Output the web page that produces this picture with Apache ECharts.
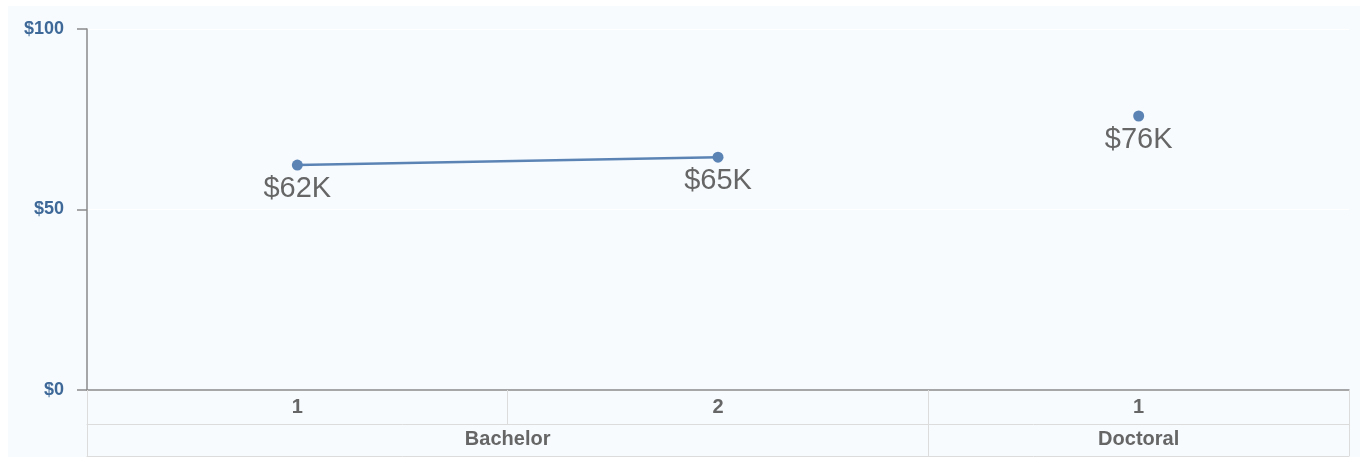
<!DOCTYPE html>
<html>
<head>
<meta charset="utf-8">
<script src="https://cdn.jsdelivr.net/npm/echarts@6/dist/echarts.min.js"></script>
<style>
html,body{margin:0;padding:0;background:#fff;}
#c{position:absolute;left:8px;top:6px;width:1352px;height:451px;background:#f7fbfe;}
</style>
</head>
<body>
<div id="c"></div>
<script>
const categories = ['1', '2', '1'];
const groups = ['Bachelor', 'Doctoral'];
const groupSpans = [2, 1];
const bachelorValues = [62.3, 64.5, '-'];
const doctoralValues = ['-', '-', 75.9];
const yTicks = [0, 50, 100];

const labelFont = "'Liberation Sans',Arial,sans-serif";

// group centres/edges on a 0..N value scale
const edges = [0];
groupSpans.forEach(s => edges.push(edges[edges.length - 1] + s));
const centres = groupSpans.map((s, i) => edges[i] + s / 2);

const chart = echarts.init(document.getElementById('c'));
const lineColor = '#5b84b5';
const pointLabel = {
  show: true, position: 'bottom', distance: 4,
  formatter: p => '$' + Math.round(p.value) + 'K',
  color: '#666', fontSize: 29, fontFamily: labelFont
};
chart.setOption({
  animation: false,
  grid: { left: 79, right: 11, top: 23, bottom: 67 },
  xAxis: [
    {
      type: 'category', data: categories, position: 'bottom',
      boundaryGap: true,
      axisLine: { lineStyle: { color: '#8a8a8a', width: 1.5 } },
      axisTick: { show: true, interval: 0, length: 34, lineStyle: { color: '#dcdcdc' } },
      axisLabel: { margin: 7, color: '#666', fontWeight: 'bold', fontSize: 20, fontFamily: labelFont },
      splitLine: { show: false }
    },
    {
      type: 'value', min: 0, max: edges[edges.length - 1], position: 'bottom', offset: 34,
      axisLine: { show: true, lineStyle: { color: '#dcdcdc' } },
      axisTick: { show: true, customValues: edges, length: 32, lineStyle: { color: '#dcdcdc' } },
      axisLabel: {
        customValues: centres, margin: 5, color: '#666', fontWeight: 'bold', fontSize: 20, fontFamily: labelFont,
        formatter: v => groups[centres.indexOf(v)] || ''
      },
      splitLine: { show: false }
    },
    {
      type: 'value', min: 0, max: 1, position: 'bottom', offset: 66,
      axisLine: { show: true, lineStyle: { color: '#dcdcdc' } },
      axisTick: { show: false }, axisLabel: { show: false }, splitLine: { show: false }
    }
  ],
  yAxis: {
    type: 'value', min: yTicks[0], max: yTicks[yTicks.length - 1], interval: 50,
    axisLine: { show: true, lineStyle: { color: '#8a8a8a', width: 1.5 } },
    axisTick: { show: true, length: 10, lineStyle: { color: '#8a8a8a', width: 1.5 } },
    axisLabel: { margin: 23, color: '#3d6898', fontWeight: 'bold', fontSize: 18,
      fontFamily: labelFont, formatter: v => '$' + v },
    splitLine: { show: true, lineStyle: { color: '#ffffff', width: 1 } }
  },
  series: [
    {
      type: 'line', xAxisIndex: 0, data: bachelorValues,
      symbol: 'circle', symbolSize: 11,
      lineStyle: { color: lineColor, width: 2.5 },
      itemStyle: { color: lineColor },
      label: pointLabel
    },
    {
      type: 'line', xAxisIndex: 0, data: doctoralValues,
      symbol: 'circle', symbolSize: 11,
      lineStyle: { color: lineColor, width: 2.5 },
      itemStyle: { color: lineColor },
      label: pointLabel
    }
  ]
});
</script>
</body>
</html>
